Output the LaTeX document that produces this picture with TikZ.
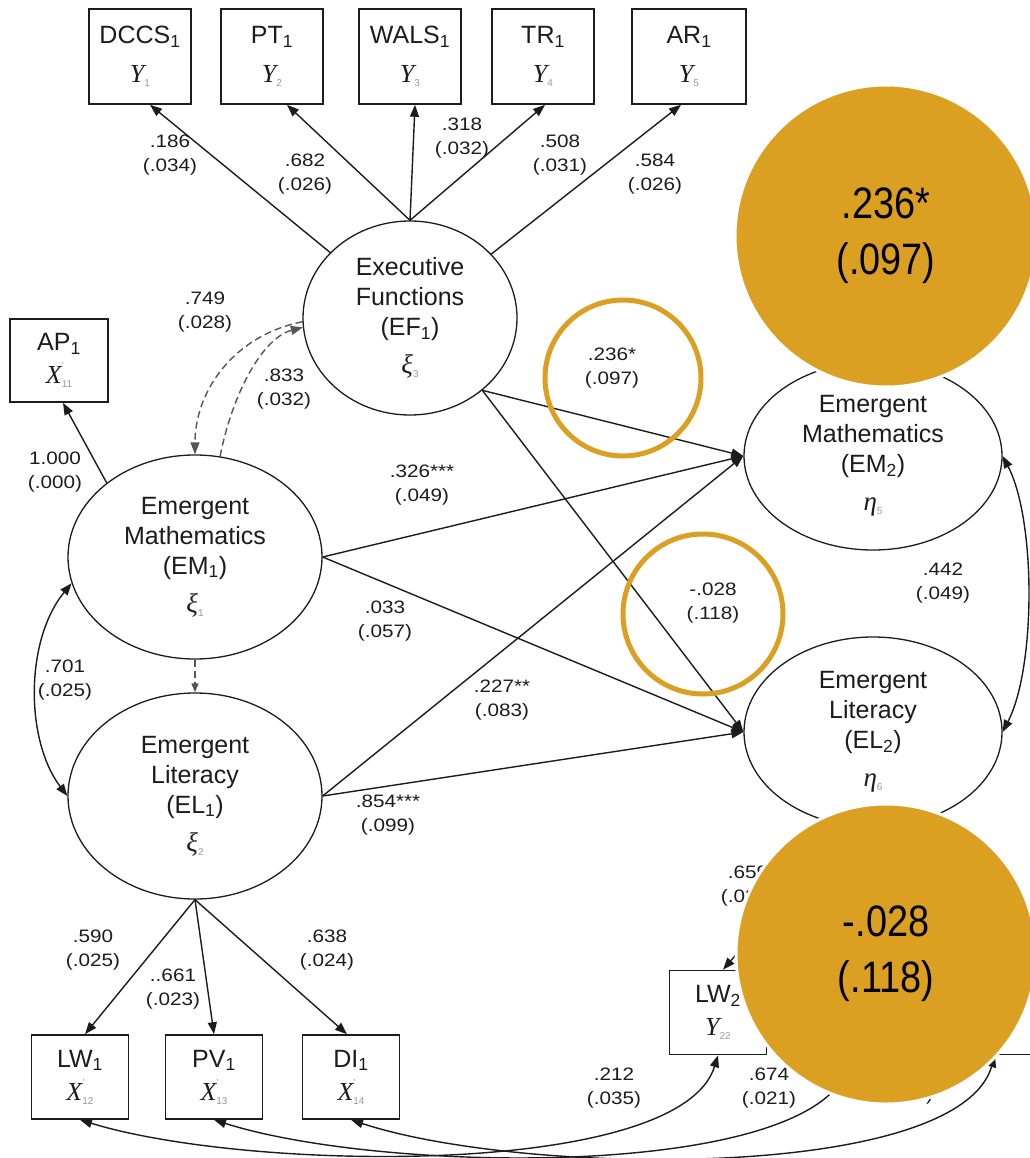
\documentclass[tikz,border=0pt]{standalone}
\usepackage{fontspec}
\usepackage{graphicx}
\setmainfont{Liberation Sans}
\newfontfamily\symfont{Liberation Serif}
\usetikzlibrary{arrows.meta,shapes.geometric}

\definecolor{ink}{HTML}{1C1C1C}
\definecolor{gold}{RGB}{219,160,34}
\definecolor{subgray}{HTML}{9A9A9A}

% small grey index after a model symbol
\newcommand{\lowidx}[1]{\raisebox{-4pt}{\fontsize{10}{10}\selectfont\color{subgray}#1}}
\newcommand{\ysym}[1]{{\fontsize{26}{26}\selectfont\symfont\itshape Y}\lowidx{#1}}
\newcommand{\xsym}[1]{{\fontsize{26}{26}\selectfont\symfont\itshape X}\rlap{\raisebox{14pt}{\fontsize{10}{10}\selectfont\color{subgray}'}}\lowidx{#1}}
\newcommand{\gsym}[2]{{\fontsize{27}{27}\selectfont\symfont\itshape #1}\lowidx{#2}}
% estimate with standard error below
\newcommand{\est}[2]{\scalebox{1.15}[1]{#1}\\\scalebox{1.15}[1]{#2}}
\newcommand{\bigest}[2]{\scalebox{0.86}[1]{#1}\\\scalebox{0.86}[1]{#2}}

\tikzset{
  every node/.style={text=ink},
  obs/.style={draw=ink, line width=1.6pt, minimum width=102pt, minimum height=95pt,
    inner sep=0pt, align=center, font=\fontsize{25}{30}\selectfont},
  obsb/.style={obs, minimum width=97pt, minimum height=84pt},
  lat/.style={ellipse, draw=ink, line width=1.3pt, inner sep=0pt, align=center,
    font=\fontsize{25}{30}\selectfont},
  reg/.style={draw=ink, line width=1.4pt, -{Triangle[length=12pt,width=9pt]}},
  cov/.style={draw=ink, line width=1.4pt,
    {Triangle[length=12pt,width=9pt]}-{Triangle[length=12pt,width=9pt]}},
  dashpath/.style={reg, draw=ink!75, dash pattern=on 7pt off 4pt},
  lbl/.style={align=center, inner sep=0pt, font=\fontsize{18}{24}\selectfont},
  ring/.style={draw=gold, line width=5pt},
  spot/.style={circle, fill=gold, draw=white, line width=3pt, inner sep=0pt,
    align=center, text=black, font=\fontsize{44}{56}\selectfont}
}

\begin{document}
\begin{tikzpicture}[x=1pt,y=1pt]
\fill[white] (0,0) rectangle (1029,-1158);
\useasboundingbox (0,0) rectangle (1029,-1158);

% executive function indicators
\node[obs] (DCCS) at (140,-56.5) {DCCS\textsubscript{1}\\[9pt]\ysym{1}};
\node[obs] (PT)   at (272,-56.5) {PT\textsubscript{1}\\[9pt]\ysym{2}};
\node[obs] (WALS) at (410,-56.5) {WALS\textsubscript{1}\\[9pt]\ysym{3}};
\node[obs] (TR)   at (543,-56.5) {TR\textsubscript{1}\\[9pt]\ysym{4}};
\node[obs, minimum width=114pt] (AR) at (689,-56.5) {AR\textsubscript{1}\\[9pt]\ysym{5}};

\node[obs, minimum width=98pt, minimum height=83pt] (AP) at (59,-360.5) {AP\textsubscript{1}\\[3pt]\xsym{11}};

% latent constructs
\node[lat, minimum width=214pt, minimum height=194pt] (EF) at (410,-318)
  {Executive\\Functions\\(EF\textsubscript{1})\\[8pt]\gsym{ξ}{3}};
\node[lat, minimum width=254pt, minimum height=204pt] (EM1) at (195,-557)
  {Emergent\\Mathematics\\(EM\textsubscript{1})\\[8pt]\gsym{ξ}{1}};
\node[lat, minimum width=254pt, minimum height=206pt] (EL1) at (195,-796)
  {Emergent\\Literacy\\(EL\textsubscript{1})\\[8pt]\gsym{ξ}{2}};
\node[lat, minimum width=258pt, minimum height=188pt] (EM2) at (873,-456)
  {Emergent\\Mathematics\\(EM\textsubscript{2})\\[8pt]\gsym{η}{5}};
\node[lat, minimum width=258pt, minimum height=190pt] (EL2) at (873,-732)
  {Emergent\\Literacy\\(EL\textsubscript{2})\\[8pt]\gsym{η}{6}};

% literacy indicators
\node[obsb] (LW1) at (80,-1077)  {LW\textsubscript{1}\\[3pt]\xsym{12}};
\node[obsb] (PV1) at (214,-1077) {PV\textsubscript{1}\\[3pt]\xsym{13}};
\node[obsb] (DI1) at (351,-1077) {DI\textsubscript{1}\\[3pt]\xsym{14}};
\node[obsb] (LW2) at (718,-1012.5) {LW\textsubscript{2}\\[3pt]\ysym{22}};
\node[obsb] (DI2) at (985,-1012.5) {};
\coordinate (PV2) at (852,-1055);

% loadings of executive functions
\draw[reg] (EF) -- ([xshift=10pt]DCCS.south);
\draw[reg] (EF.north) -- ([xshift=15pt]PT.south);
\draw[reg] (EF.north) -- ([xshift=5pt]WALS.south);
\draw[reg] (EF.north) -- ([xshift=2pt]TR.south);
\draw[reg] (EF) -- ([xshift=-8pt]AR.south);
\draw[reg] (EM1.140) -- ([xshift=4pt]AP.south);

% reciprocal paths between EM1 and EF
\draw[dashpath] (EF.182) .. controls (235,-335) and (195,-390) .. (EM1.north);
\draw[dashpath] (EM1.76) .. controls (232,-395) and (262,-338) .. (EF.185);
\draw[dashpath, -{Triangle[length=9pt,width=7pt]}] (EM1.south) -- (EL1.north);

% structural paths to time 2
\draw[reg] (EF.-45) -- (EM2.west);
\draw[reg] (EF.-45) -- (EL2.west);
\draw[reg] (EM1.east) -- (EM2.west);
\draw[reg] (EM1.east) -- (EL2.west);
\draw[reg] (EL1.east) -- (EM2.west);
\draw[reg] (EL1.east) -- (EL2.west);

% covariances
\draw[cov] (EM1.192) .. controls (25,-640) and (25,-740) .. (EL1.180);
\draw[cov] (EM2.east) .. controls (1036,-520) and (1036,-667) .. (EL2.east);

% literacy loadings
\draw[reg] (EL1.south) -- ([xshift=5pt]LW1.north);
\draw[reg] (EL1.south) -- (PV1.north);
\draw[reg] (EL1.south) -- ([xshift=-4pt]DI1.north);
\draw[reg] (EL2.255) -- ([xshift=5pt]LW2.north);

% residual covariances across time
\draw[cov] (LW1.south) .. controls (250,-1172) and (680,-1178) .. (LW2.south);
\draw[cov] (PV1.south) .. controls (384,-1174) and (814,-1180) .. (PV2);
\draw[cov] (DI1.south) .. controls (521,-1176) and (957,-1182) .. ([xshift=10pt]DI2.south);

% estimates
\node[lbl] (e1)  at (170,-155) {\est{.186}{(.034)}};
\node[lbl] (e2)  at (305,-174) {\est{.682}{(.026)}};
\node[lbl] (e3)  at (462,-138) {\est{.318}{(.032)}};
\node[lbl] (e4)  at (560,-155) {\est{.508}{(.031)}};
\node[lbl] (e5)  at (655,-174) {\est{.584}{(.026)}};
\node[lbl] (e6)  at (205,-312) {\est{.749}{(.028)}};
\node[lbl] (e7)  at (284,-389) {\est{.833}{(.032)}};
\node[lbl] (e8)  at (55,-472)  {\est{1.000}{(.000)}};
\node[lbl] (e9)  at (612,-368) {\est{.236*}{(.097)}};
\node[lbl] (e10) at (422,-485) {\est{.326***}{(.049)}};
\node[lbl] (e11) at (385,-621) {\est{.033}{(.057)}};
\node[lbl] (e12) at (65,-680)  {\est{.701}{(.025)}};
\node[lbl] (e13) at (502,-700) {\est{.227**}{(.083)}};
\node[lbl] (e14) at (713,-603) {\est{-.028}{(.118)}};
\node[lbl] (e15) at (943,-583) {\est{.442}{(.049)}};
\node[lbl] (e16) at (388,-815) {\est{.854***}{(.099)}};
\node[lbl] (e17) at (93,-950)  {\est{.590}{(.025)}};
\node[lbl] (e18) at (173,-989) {\est{..661}{(.023)}};
\node[lbl] (e19) at (327,-950) {\est{.638}{(.024)}};
\node[lbl] (e20) at (748,-886) {\est{.659}{(.021)}};
\node[lbl] (e21) at (614,-1088) {\est{.212}{(.035)}};
\node[lbl] (e22) at (769,-1088) {\est{.674}{(.021)}};
\node[lbl] (e23) at (906,-1084) {\est{.670}{(.022)}};

% highlighted estimates
\draw[ring] (623,-378) circle[radius=78pt];
\draw[ring] (703,-614) circle[radius=80pt];
\node[spot, minimum size=302pt] (h1) at (886,-236) {\bigest{.236*}{(.097)}};
\node[spot, minimum size=300pt] (h2) at (886,-954) {\bigest{-.028}{(.118)}};
\end{tikzpicture}
\end{document}
